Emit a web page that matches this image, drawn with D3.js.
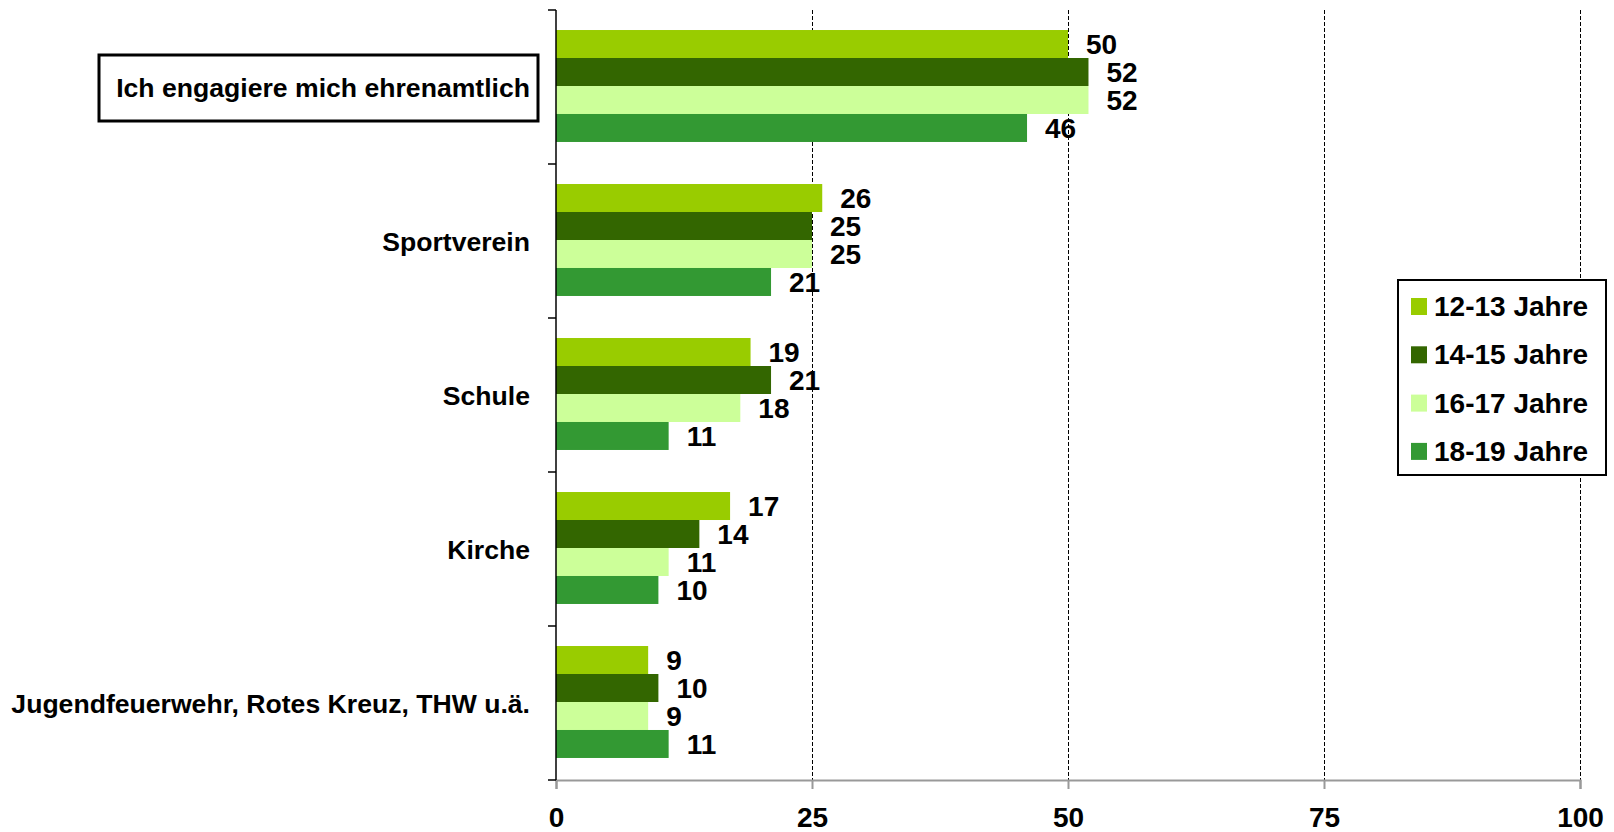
<!DOCTYPE html>
<html>
<head>
<meta charset="utf-8">
<script src="https://cdn.jsdelivr.net/npm/d3@7"></script>
<style>
  body { margin: 0; background: #fff; }
  text { font-family: "Liberation Sans", Arial, sans-serif; font-weight: bold; fill: #000; }
</style>
</head>
<body>
<script>
// categories (top to bottom)
var categories = ["Ich engagiere mich ehrenamtlich", "Sportverein", "Schule", "Kirche", "Jugendfeuerwehr, Rotes Kreuz, THW u.ä."];
var series = ["12-13 Jahre", "14-15 Jahre", "16-17 Jahre", "18-19 Jahre"];
var colors = ["#99cc00", "#336600", "#ccff99", "#339933"];

// values in %, one array per age group
var age1213 = [50, 26, 19, 17, 9];
var age1415 = [52, 25, 21, 14, 10];
var age1617 = [52, 25, 18, 11, 9];
var age1819 = [46, 21, 11, 10, 11];

var xTicks = [0, 25, 50, 75, 100];

var values = [age1213, age1415, age1617, age1819];

var width = 1614, height = 832;
var margin = {top: 10, right: 34, bottom: 52, left: 556};

var svg = d3.select("body")
    .append("svg")
    .attr("width", width)
    .attr("height", height);

var x = d3.scaleLinear()
    .domain([0, 100])
    .range([margin.left, width - margin.right]);

var y0 = d3.scaleBand()
    .domain(categories)
    .range([margin.top, height - margin.bottom]);

var bw = y0.bandwidth();
var y1 = d3.scaleBand()
    .domain(series)
    .range([bw * 0.13, bw * 0.857]);

function crisp(v) { return Math.round(v) + 0.5; }

// grid lines
svg.append("g")
    .selectAll("line")
    .data(xTicks.slice(1))
    .enter().append("line")
    .attr("x1", function(d) { return crisp(x(d)); })
    .attr("x2", function(d) { return crisp(x(d)); })
    .attr("y1", margin.top)
    .attr("y2", height - margin.bottom)
    .style("stroke", "#000")
    .style("stroke-width", 1)
    .style("stroke-dasharray", "4,2");

// bars
var rows = [];
categories.forEach(function(c, i) {
    series.forEach(function(s, j) {
        rows.push({cat: c, ser: s, j: j, v: values[j][i]});
    });
});

var groups = svg.append("g").attr("class", "bars");

groups.selectAll("rect")
    .data(rows)
    .enter().append("rect")
    .attr("x", x(0))
    .attr("y", function(d) { return y0(d.cat) + y1(d.ser); })
    .attr("width", function(d) { return x(d.v) - x(0); })
    .attr("height", y1.bandwidth())
    .style("fill", function(d) { return colors[d.j]; });

groups.selectAll("text")
    .data(rows)
    .enter().append("text")
    .attr("x", function(d) { return x(d.v) + 18; })
    .attr("y", function(d) { return y0(d.cat) + y1(d.ser) + y1.bandwidth() / 2; })
    .attr("dy", "0.36em")
    .style("font-size", "28px")
    .text(function(d) { return d.v; });

// bottom axis (grey)
var xAxis = svg.append("g")
    .attr("transform", "translate(0," + (height - margin.bottom) + ")")
    .call(d3.axisBottom(x).tickValues(xTicks).tickSize(9).tickPadding(18));
xAxis.select(".domain").style("stroke", "#999").style("stroke-width", 2);
xAxis.selectAll(".tick line").style("stroke", "#999").style("stroke-width", 2);
xAxis.selectAll(".tick text")
    .style("font-size", "28px")
    .style("font-family", "Liberation Sans, Arial, sans-serif")
    .style("font-weight", "bold")
    .style("fill", "#000");

// left axis line with ticks at band edges
var edges = categories.map(function(c) { return y0(c); }).concat([height - margin.bottom]);
svg.append("line")
    .attr("x1", x(0)).attr("x2", x(0))
    .attr("y1", margin.top).attr("y2", height - margin.bottom)
    .style("stroke", "#000").style("stroke-width", 1.5);
svg.append("g")
    .selectAll("line")
    .data(edges)
    .enter().append("line")
    .attr("x1", x(0) - 8).attr("x2", x(0))
    .attr("y1", function(d) { return d; })
    .attr("y2", function(d) { return d; })
    .style("stroke", "#000").style("stroke-width", 1.5);

// category labels
svg.append("g")
    .selectAll("text")
    .data(categories)
    .enter().append("text")
    .attr("x", 530)
    .attr("y", function(d) { return y0(d) + bw / 2; })
    .attr("dy", "0.36em")
    .attr("text-anchor", "end")
    .style("font-size", "26.6px")
    .text(function(d) { return d; });

// box round the first label
svg.append("rect")
    .attr("x", 99)
    .attr("y", y0(categories[0]) + bw / 2 - 32)
    .attr("width", 439)
    .attr("height", 66)
    .style("fill", "none")
    .style("stroke", "#000")
    .style("stroke-width", 3);

// legend
var legend = svg.append("g").attr("transform", "translate(1398,280)");
legend.append("rect")
    .attr("width", 208)
    .attr("height", 195)
    .style("fill", "#fff")
    .style("stroke", "#000")
    .style("stroke-width", 2);

var item = legend.selectAll("g.item")
    .data(series)
    .enter().append("g")
    .attr("class", "item")
    .attr("transform", function(d, i) { return "translate(0," + (26 + i * 48.3) + ")"; });

item.append("rect")
    .attr("x", 13)
    .attr("y", -8)
    .attr("width", 16)
    .attr("height", 17)
    .style("fill", function(d, i) { return colors[i]; });

item.append("text")
    .attr("x", 36)
    .attr("dy", "0.36em")
    .style("font-size", "28px")
    .text(function(d) { return d; });
</script>
</body>
</html>
